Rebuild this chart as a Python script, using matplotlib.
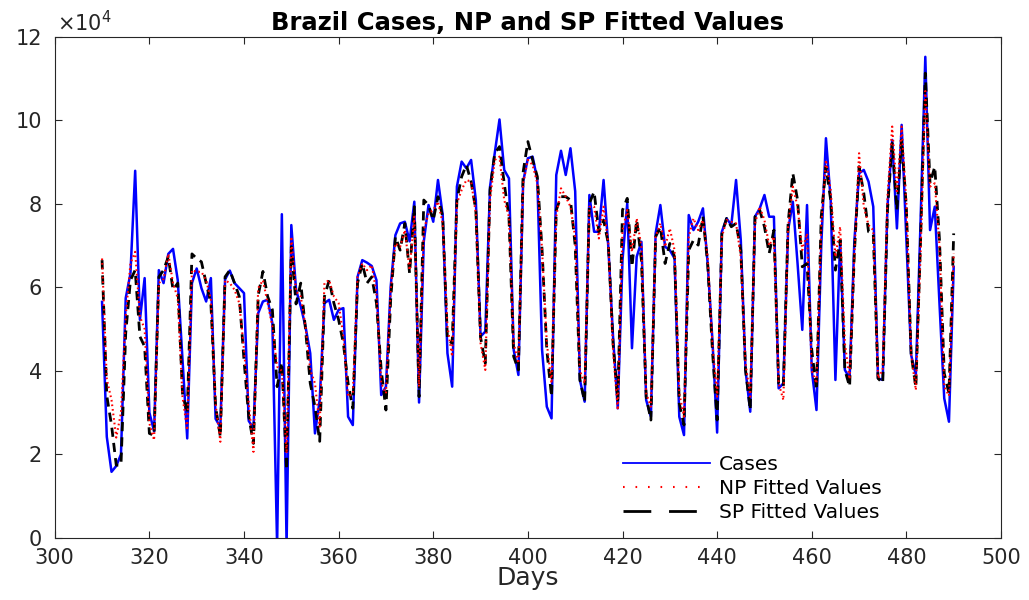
import numpy as np
import matplotlib
matplotlib.use("Agg")
import matplotlib.pyplot as plt
from matplotlib.lines import Line2D

plt.rcParams['font.family'] = ['DejaVu Sans']

# daily values, in units of 1e4 cases
days = np.arange(310, 491)

cases = [
    5.65, 2.42, 1.58, 1.72, 2.00, 5.74, 6.33, 8.79, 5.22, 6.22,
    3.00, 2.55, 6.41, 6.10, 6.80, 6.92, 6.17, 4.26, 2.38, 6.10,
    6.45, 5.98, 5.66, 6.22, 2.85, 2.65, 6.19, 6.40, 6.10, 5.98,
    5.86, 2.80, 2.62, 5.38, 5.66, 5.70, 5.14, -0.20, 7.75, -0.20,
    7.49, 5.94, 5.54, 5.06, 4.42, 2.50, 3.30, 5.62, 5.70, 5.22,
    5.46, 5.50, 2.90, 2.70, 6.25, 6.65, 6.59, 6.51, 6.17, 3.42,
    3.62, 6.01, 7.25, 7.53, 7.57, 7.10, 8.05, 3.24, 7.10, 7.97,
    7.57, 8.57, 7.73, 4.42, 3.62, 8.41, 9.01, 8.85, 9.05, 8.09,
    4.82, 4.94, 8.41, 9.21, 10.02, 8.81, 8.61, 4.50, 3.90, 8.53,
    9.09, 9.13, 8.57, 4.50, 3.14, 2.86, 8.69, 9.27, 8.69, 9.33,
    8.30, 3.78, 3.26, 8.21, 7.33, 7.33, 8.57, 6.97, 4.82, 3.10,
    6.65, 8.01, 4.54, 6.73, 7.09, 3.30, 2.90, 7.29, 7.97, 6.97,
    6.89, 6.69, 2.90, 2.46, 7.73, 7.37, 7.57, 7.89, 6.57, 4.74,
    2.52, 7.33, 7.65, 7.49, 8.57, 7.13, 4.02, 3.02, 7.69, 7.89,
    8.21, 7.69, 7.69, 3.58, 3.70, 7.37, 8.05, 6.57, 4.98, 7.97,
    4.02, 3.06, 6.97, 9.57, 8.09, 3.78, 7.13, 4.02, 3.82, 7.09,
    8.73, 8.81, 8.53, 7.93, 3.82, 3.78, 7.93, 9.53, 7.41, 9.89,
    7.13, 4.38, 3.90, 7.60, 11.52, 7.37, 7.93, 5.60, 3.34, 2.78,
    6.49,
]

np_fit = [
    6.69, 3.80, 3.30, 2.40, 3.00, 5.30, 6.57, 6.85, 5.30, 5.00,
    2.74, 2.34, 6.10, 6.20, 6.80, 6.10, 5.74, 3.38, 2.58, 6.41,
    6.37, 6.37, 6.17, 5.70, 3.20, 2.30, 6.17, 6.10, 5.94, 5.62,
    4.50, 3.22, 2.06, 5.98, 6.17, 5.62, 5.06, 4.10, 4.00, 2.02,
    7.21, 5.90, 5.78, 5.06, 4.02, 3.70, 2.66, 6.10, 6.17, 5.78,
    5.62, 4.82, 3.38, 3.46, 6.25, 6.57, 6.41, 6.53, 5.86, 3.70,
    3.46, 5.94, 7.05, 6.97, 7.37, 6.41, 7.69, 3.62, 7.37, 7.77,
    7.85, 8.05, 7.53, 5.06, 4.34, 8.01, 8.33, 8.57, 8.53, 7.77,
    4.66, 4.02, 8.09, 9.05, 9.13, 8.09, 7.69, 4.66, 4.18, 8.49,
    9.05, 8.93, 8.49, 6.89, 4.66, 3.70, 7.69, 8.37, 8.17, 7.93,
    7.20, 4.00, 3.70, 7.93, 7.93, 7.17, 7.93, 7.05, 4.50, 3.06,
    7.37, 7.85, 6.85, 7.65, 6.97, 3.46, 3.14, 7.21, 7.53, 6.97,
    7.41, 6.89, 3.46, 2.90, 7.21, 7.65, 7.37, 7.61, 6.73, 4.66,
    3.38, 7.21, 7.61, 7.57, 7.53, 6.73, 4.18, 3.38, 7.53, 7.93,
    7.61, 7.00, 7.21, 3.70, 3.30, 7.45, 8.41, 7.93, 6.89, 7.29,
    4.00, 3.70, 7.45, 9.05, 8.33, 6.73, 7.45, 4.66, 3.80, 6.73,
    9.21, 7.93, 7.49, 7.37, 3.82, 4.02, 8.17, 9.85, 8.25, 9.85,
    8.01, 4.40, 3.54, 6.81, 10.70, 8.41, 8.49, 7.00, 3.62, 3.40,
    6.81,
]

sp_fit = [
    6.65, 3.40, 2.70, 1.74, 1.74, 4.90, 6.17, 6.41, 4.82, 4.58,
    2.50, 2.45, 6.25, 6.41, 6.73, 5.94, 6.10, 3.46, 2.98, 6.80,
    6.69, 6.61, 6.10, 5.62, 3.14, 2.42, 6.25, 6.41, 6.10, 5.78,
    4.26, 2.90, 2.26, 5.80, 6.38, 5.78, 5.46, 3.62, 4.20, 1.62,
    6.97, 5.60, 6.10, 5.00, 3.70, 3.14, 2.31, 5.78, 6.17, 5.62,
    5.22, 4.66, 3.70, 3.10, 6.10, 6.57, 6.10, 6.25, 5.62, 4.02,
    3.06, 5.70, 7.21, 6.89, 7.53, 6.33, 7.93, 3.38, 8.09, 7.97,
    7.61, 8.17, 7.69, 4.74, 4.66, 8.09, 8.65, 8.93, 8.53, 7.85,
    4.80, 4.18, 8.33, 9.21, 9.37, 8.49, 7.69, 4.34, 4.02, 8.76,
    9.49, 9.05, 8.65, 6.89, 4.50, 3.38, 7.85, 8.17, 8.17, 8.09,
    7.00, 3.78, 3.26, 8.01, 8.29, 7.33, 7.61, 7.05, 4.66, 3.30,
    7.85, 8.13, 6.49, 7.61, 6.65, 3.38, 2.82, 7.21, 7.45, 6.57,
    7.05, 6.73, 3.22, 2.70, 6.89, 7.13, 7.01, 7.69, 6.57, 4.50,
    2.82, 7.29, 7.65, 7.45, 7.53, 6.89, 4.02, 3.06, 7.69, 7.85,
    7.45, 6.81, 7.37, 3.70, 3.62, 7.53, 8.73, 8.09, 6.49, 6.57,
    4.50, 3.54, 7.69, 8.89, 8.09, 6.41, 7.13, 4.02, 3.62, 6.81,
    8.89, 8.25, 7.33, 7.29, 3.82, 3.70, 7.85, 9.45, 7.85, 9.53,
    7.90, 4.40, 3.60, 7.13, 11.13, 8.49, 8.89, 7.13, 3.94, 3.46,
    7.29,
]

scale = 1e4
xticks = np.arange(300, 501, 20)
yticks = np.arange(0, 13, 2)

fig = plt.figure(figsize=(10.29, 6.0), dpi=100)
ax = fig.add_axes([0.0532, 0.1037, 0.9196, 0.835])

ax.plot(days, np.array(cases) * scale, color='#0000ff', lw=1.8, zorder=2)
ax.plot(days, np.array(np_fit) * scale, color='#ff0000', lw=1.5,
        linestyle=(0, (0.8, 1.4)), zorder=4)
ax.plot(days, np.array(sp_fit) * scale, color='black', lw=2.0,
        linestyle=(0, (3.3, 2.2)), zorder=3)

ax.set_xlim(300, 500)
ax.set_ylim(0, 12 * scale)
ax.set_xticks(xticks)
ax.set_yticks(yticks * scale)
ax.set_yticklabels([str(v) for v in yticks])

ax.tick_params(direction='in', top=True, right=True, length=5,
               width=0.8, labelsize=15, colors='#262626')
ax.tick_params(axis='x', pad=7)
ax.tick_params(axis='y', pad=9)
for s in ax.spines.values():
    s.set_color('#262626')
    s.set_linewidth(0.8)

ax.text(0.002, 1.003, r'$\times 10^{4}$', transform=ax.transAxes,
        fontsize=15, color='#262626', ha='left', va='bottom')

ax.set_title('Brazil Cases, NP and SP Fitted Values', fontsize=17.5,
             fontweight='bold', pad=5)
ax.set_xlabel('Days', fontsize=18, labelpad=-1, color='#262626')

# legend samples with the longer dash/dot spacing used in the key
handles = [
    Line2D([], [], color='#0000ff', lw=1.3),
    Line2D([], [], color='#ff0000', lw=1.5, linestyle=(0, (0.8, 5.2))),
    Line2D([], [], color='black', lw=2.0, linestyle=(0, (10, 6.4))),
]
labels = ['Cases', 'NP Fitted Values', 'SP Fitted Values']
ax.legend(handles, labels, loc='upper left',
          bbox_to_anchor=(623 / 1029, 1 - 455 / 600),
          bbox_transform=fig.transFigure, frameon=False, fontsize=14.5,
          handlelength=4.3, handletextpad=0.45, labelspacing=0.25,
          borderpad=0, borderaxespad=0)

fig.savefig('out.png', dpi=100)
